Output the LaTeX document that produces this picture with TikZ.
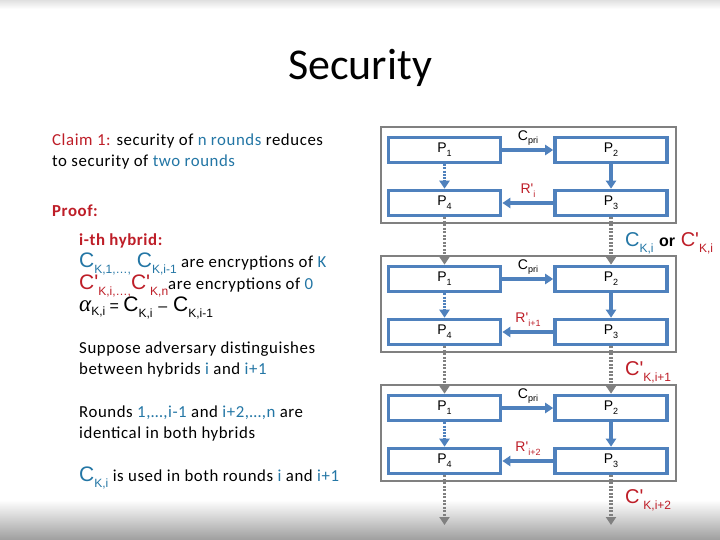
\documentclass[tikz,border=0pt]{standalone}
\usepackage{fontspec}
\setmainfont{Carlito}[LetterSpace=3.5]
\newfontfamily\titlef{Carlito}
\newfontfamily\arialf{Liberation Sans}
\newfontfamily\serf{Liberation Serif}
\usetikzlibrary{arrows.meta}
\definecolor{boxblue}{RGB}{79,129,189}
\definecolor{boxgray}{RGB}{128,128,128}
\definecolor{tred}{RGB}{190,30,40}
\definecolor{tblue}{RGB}{35,118,165}
\newcommand\dsub[1]{\raisebox{-0.5ex}{\fontsize{9}{9}\selectfont #1}}
\newcommand\bigC{\arialf\fontsize{21}{21}\selectfont C}
\newcommand\lsub[1]{\raisebox{-0.6ex}{\arialf\fontsize{12}{12}\selectfont #1}}
\begin{document}
\begin{tikzpicture}[x=1pt,y=-1pt,
  pbox/.style={draw=boxblue, line width=3.6pt, minimum width=112pt, minimum height=25pt, inner sep=0pt, font=\arialf\fontsize{14}{14}\selectfont},
  obox/.style={draw=boxgray, line width=2.4pt, minimum width=295pt, minimum height=96pt, inner sep=0pt},
  barrow/.style={draw=boxblue, line width=3.4pt, -{Triangle[length=8pt,width=10pt]}},
  bdot/.style={draw=boxblue, line width=3.4pt, dash pattern=on 2pt off 1.2pt, -{Triangle[length=8pt,width=10pt]}},
  garrow/.style={draw=boxgray, line width=3.4pt, dash pattern=on 2pt off 1.5pt, -{Triangle[length=8pt,width=10pt]}},
  lbl/.style={inner sep=0pt, font=\arialf\fontsize{14}{14}\selectfont},
  txt/.style={anchor=base west, inner sep=0pt, font=\fontsize{16.8}{20}\selectfont},
  ctxt/.style={anchor=west, inner sep=0pt, font=\arialf\fontsize{20}{20}\selectfont}
]
\useasboundingbox (0,0) rectangle (720,540);
\fill[white] (0,0) rectangle (720,540);
\shade[top color=black!12, bottom color=white] (0,0) rectangle (720,9);
\shade[top color=white, bottom color=black!38] (0,500) rectangle (720,540);

\node[inner sep=0pt, font=\titlef\fontsize{44}{44}\selectfont] (title) at (360,68) {Security};

% left text
\node[txt] (claimA) at (52,146) {\textcolor{tred}{Claim 1:} security of \textcolor{tblue}{n rounds} reduces};
\node[txt] (claimB) at (52,167) {to security of \textcolor{tblue}{two rounds}};
\node[txt] (proof) at (52,217) {\textcolor{tred}{\bfseries Proof:}};
\node[txt] (hyb) at (79,245) {\textcolor{tred}{\bfseries i-th hybrid:}};
\node[txt] (lineA) at (79,267) {\textcolor{tblue}{\bigC\lsub{K,1,…,} \bigC\lsub{K,i-1}} are encryptions of \textcolor{tblue}{K}};
\node[txt] (lineB) at (79,289) {\textcolor{tred}{\bigC'\lsub{K,i,…,}\bigC'\lsub{K,n}}are encryptions of \textcolor{tblue}{0}};
\node[txt] (lineC) at (79,311) {{\serf\itshape\fontsize{23}{23}\selectfont α}\lsub{K,i} {\arialf\fontsize{16}{16}\selectfont=} \bigC\lsub{K,i} {\arialf\fontsize{16}{16}\selectfont\textendash} \bigC\lsub{K,i-1}};
\node[txt] (supA) at (79,353) {Suppose adversary distinguishes};
\node[txt] (supB) at (79,374) {between hybrids \textcolor{tblue}{i} and \textcolor{tblue}{i+1}};
\node[txt] (rndA) at (79,417) {Rounds \textcolor{tblue}{1,…,i-1} and \textcolor{tblue}{i+2,…,n} are};
\node[txt] (rndB) at (79,438) {identical in both hybrids};
\node[txt] (used) at (79,481) {\textcolor{tblue}{\bigC\lsub{K,i}} is used in both rounds \textcolor{tblue}{i} and \textcolor{tblue}{i+1}};

% rounds
\foreach \k/\r/\dy in {1/i/0, 2/{i+1}/129, 3/{i+2}/258}{
  \node[obox] (box\k) at (528.5,175+\dy) {};
  \node[pbox] (pa\k) at (444.5,150+\dy) {P\dsub{1}};
  \node[pbox] (pb\k) at (611,150+\dy) {P\dsub{2}};
  \node[pbox] (pd\k) at (444.5,203+\dy) {P\dsub{4}};
  \node[pbox] (pc\k) at (611,203+\dy) {P\dsub{3}};
  \draw[barrow] (pa\k) -- (pb\k);
  \draw[barrow] (pb\k) -- (pc\k);
  \draw[barrow] (pc\k) -- (pd\k);
  \draw[bdot] (pa\k) -- (pd\k);
  \node[lbl] (cpri\k) at (528,138+\dy) {C\dsub{pri}};
  \node[lbl, text=tred] (rr\k) at (528,191+\dy) {R'\dsub{\r}};
}

\coordinate (endL) at (444.5,525);
\coordinate (endR) at (611,525);
\draw[garrow] (pd1) -- (pa2);
\draw[garrow] (pc1) -- (pb2);
\draw[garrow] (pd2) -- (pa3);
\draw[garrow] (pc2) -- (pb3);
\draw[garrow] (pd3) -- (endL);
\draw[garrow] (pc3) -- (endR);

\node[ctxt] (lab1) at (625,243) {\textcolor{tblue}{C\lsub{K,i}} {\bfseries\fontsize{16}{16}\selectfont or} \textcolor{tred}{C'\lsub{K,i}}};
\node[ctxt, text=tred] (lab2) at (625,372) {C'\lsub{K,i+1}};
\node[ctxt, text=tred] (lab3) at (625,500) {C'\lsub{K,i+2}};
\end{tikzpicture}
\end{document}
